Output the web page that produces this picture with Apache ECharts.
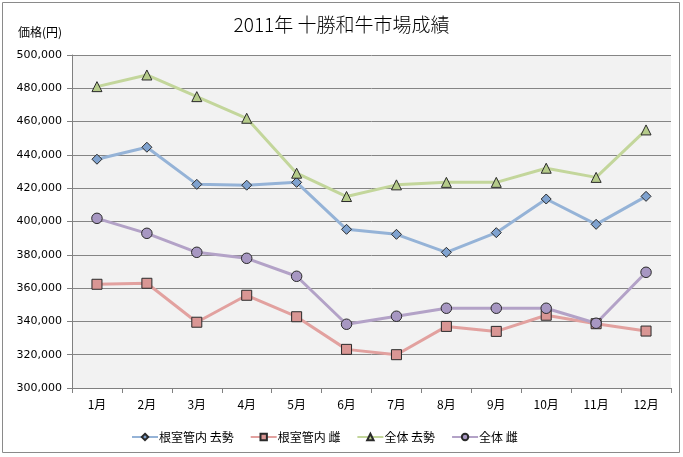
<!DOCTYPE html>
<html><head><meta charset="utf-8">
<script src="https://cdn.jsdelivr.net/npm/echarts@6/dist/echarts.min.js"></script>
<style>html,body{margin:0;padding:0;background:#fff}#c{width:683px;height:457px}</style>
</head><body><div id="c"></div>
<script>
const months = ['1月','2月','3月','4月','5月','6月','7月','8月','9月','10月','11月','12月'];
const nemuroSteer = [437400,444600,422300,421800,423500,395300,392300,381500,393300,413500,398300,415100];
const nemuroHeifer = [362300,362900,339500,355700,342800,323200,320000,337000,334000,343700,338600,334200];
const allSteer = [481000,488000,475000,462000,429000,415000,422000,423500,423500,432000,426500,455000];
const allHeifer = [401900,392900,381500,377900,367100,338300,343100,347900,347900,347900,338900,369500];
const seriesNames = ['根室管内 去勢','根室管内 雌','全体 去勢','全体 雌'];
const titleText = '2011年 十勝和牛市場成績';
const yAxisTitle = '価格(円)';

const cjk = '"Noto Sans CJK JP", "DejaVu Sans", sans-serif';
const chart = echarts.init(document.getElementById('c'), null, {renderer:'canvas'});
function mk(name, data, sym, size, line, fill){
  return {name, type:'line', data, symbol:sym, symbolSize:size, showSymbol:true,
    lineStyle:{color:line, width:3}, itemStyle:{color:fill, borderColor:'#2a2a2a', borderWidth:1},
    color: fill, emphasis:{disabled:true}, z: 3};
}
chart.setOption({
  animation:false,
  backgroundColor:'#ffffff',
  title:{text:titleText, left:'center', top:10, itemGap:0,
    textStyle:{fontFamily:cjk, fontSize:19, fontWeight:300, color:'#000'}},
  graphic:[
    {type:'rect', shape:{x:2.5,y:2.5,width:677,height:450}, style:{fill:null, stroke:'#8a8a8a', lineWidth:1}, z:-1},
    {type:'text', left:18, top:26, style:{text:yAxisTitle, font:'12px '+cjk, fill:'#000'}}
  ],
  legend:{left:126, top:426, itemWidth:26, itemHeight:8, itemGap:16,
    textStyle:{fontFamily:cjk, fontSize:12, color:'#000', padding:[0,0,0,-4]},
    data:seriesNames},
  grid:{left:72, right:12, top:55, bottom:69, show:true, backgroundColor:'#F2F2F2', borderWidth:0},
  xAxis:{type:'category', data:months, boundaryGap:true,
    axisLine:{lineStyle:{color:'#808080'}},
    axisTick:{show:true, length:5, lineStyle:{color:'#808080'}},
    axisLabel:{fontFamily:cjk, fontSize:12, color:'#000', margin:10}},
  yAxis:{type:'value', min:300000, max:500000, interval:20000,
    axisLine:{show:true, lineStyle:{color:'#808080'}},
    axisTick:{show:true, length:5, lineStyle:{color:'#808080'}},
    splitLine:{lineStyle:{color:'#858585', width:1}},
    axisLabel:{fontFamily:'"DejaVu Sans", sans-serif', fontSize:11, color:'#000', margin:10,
      formatter:v=>v.toLocaleString('en-US')}},
  series:[
    mk(seriesNames[0], nemuroSteer, 'diamond', 10, '#95B3D7', '#7FA2CF'),
    mk(seriesNames[1], nemuroHeifer, 'rect', 10, '#E2A19F', '#D99694'),
    mk(seriesNames[2], allSteer, 'triangle', 10, '#C3D69B', '#B5CB8A'),
    mk(seriesNames[3], allHeifer, 'circle', 10.5, '#B3A2C7', '#A797C2')
  ]
});
</script></body></html>
